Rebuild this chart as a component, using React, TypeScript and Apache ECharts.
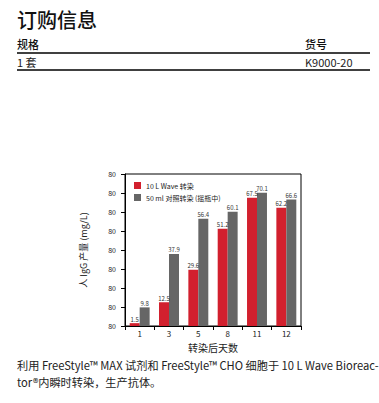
import React, { useEffect, useRef } from "react";
import * as echarts from "echarts";

const categories = ["1", "3", "5", "8", "11", "12"];
const waveValues = [1.5, 12.5, 29.6, 51.2, 67.5, 62.2];
const flaskValues = [9.8, 37.9, 56.4, 60.1, 70.1, 66.6];
const seriesNames = ["10 L Wave 转染", "50 ml 对照转染 (摇瓶中)"];
const yTickLabel = "80";

const FONT = "'Noto Sans CJK SC', 'Noto Sans', sans-serif";

export default function App() {
  const ref = useRef<HTMLDivElement>(null);
  useEffect(() => {
    if (!ref.current) return;
    const chart = echarts.init(ref.current, null, { renderer: "svg" });
    chart.setOption({
      animation: false,
      textStyle: { fontFamily: FONT },
      grid: {
        left: 125,
        right: 78,
        top: 174,
        bottom: 77,
        show: true,
        borderColor: "#000",
        borderWidth: 1,
        containLabel: false,
      },
      legend: {
        orient: "vertical",
        left: 129,
        top: 177,
        itemWidth: 7,
        itemHeight: 7,
        itemGap: 5,
        icon: "rect",
        textStyle: { fontSize: 7, color: "#222", fontFamily: FONT },
        data: seriesNames,
      },
      xAxis: {
        type: "category",
        data: categories,
        name: "转染后天数",
        nameLocation: "middle",
        nameGap: 16,
        nameTextStyle: { fontSize: 10, color: "#222", fontFamily: FONT },
        axisLine: { lineStyle: { color: "#000", width: 1 } },
        axisTick: { show: true, alignWithLabel: false, length: 4, lineStyle: { color: "#000" } },
        axisLabel: { fontSize: 8, color: "#222", margin: 3 },
      },
      yAxis: {
        type: "value",
        min: 0,
        max: 80,
        interval: 10,
        name: "人 IgG 产量 (mg/L)",
        nameLocation: "middle",
        nameGap: 37,
        nameTextStyle: { fontSize: 9, color: "#222", fontFamily: FONT },
        axisLine: { show: true, lineStyle: { color: "#000", width: 1 } },
        axisTick: { show: true, length: 4, lineStyle: { color: "#000" } },
        axisLabel: { fontSize: 7, color: "#222", margin: 9, formatter: () => yTickLabel },
        splitLine: { show: false },
      },
      series: [
        {
          name: seriesNames[0],
          type: "bar",
          data: waveValues,
          barGap: "0%",
          barCategoryGap: "32%",
          itemStyle: { color: "#d2202e" },
          label: { show: true, position: "top", fontSize: 6, color: "#333", distance: 1 },
        },
        {
          name: seriesNames[1],
          type: "bar",
          data: flaskValues,
          barGap: "0%",
          barCategoryGap: "32%",
          itemStyle: { color: "#666666" },
          label: { show: true, position: "top", fontSize: 6, color: "#333", distance: 1 },
        },
      ],
      graphic: [
        { type: "text", left: 17, top: 9, style: { text: "订购信息", fontSize: 20, fontWeight: 500, fill: "#111", fontFamily: FONT } },
        { type: "text", left: 17, top: 38, style: { text: "规格", fontSize: 11, fontWeight: 500, fill: "#111", fontFamily: FONT } },
        { type: "text", left: 305, top: 38, style: { text: "货号", fontSize: 11, fontWeight: 500, fill: "#111", fontFamily: FONT } },
        { type: "line", shape: { x1: 17, y1: 53, x2: 370, y2: 53 }, style: { stroke: "#000", lineWidth: 1.5 } },
        { type: "text", left: 17, top: 56, style: { text: "1 套", fontSize: 11, fill: "#222", fontFamily: FONT } },
        { type: "text", left: 305, top: 56, style: { text: "K9000-20", fontSize: 11, fill: "#222", fontFamily: FONT } },
        { type: "line", shape: { x1: 17, y1: 70, x2: 370, y2: 70 }, style: { stroke: "#000", lineWidth: 1.5 } },
        {
          type: "text",
          left: 17,
          top: 359,
          style: {
            text: "利用 FreeStyle™ MAX 试剂和 FreeStyle™ CHO 细胞于 10 L Wave Bioreac-",
            fontSize: 11.2,
            fill: "#222",
            fontFamily: FONT,
          },
        },
        {
          type: "text",
          left: 17,
          top: 376,
          style: { text: "tor®内瞬时转染，生产抗体。", fontSize: 11.2, fill: "#222", fontFamily: FONT },
        },
      ],
    });
    return () => chart.dispose();
  }, []);
  return (
    <div
      ref={ref}
      style={{ position: "absolute", left: 0, top: 0, width: 379, height: 403, background: "#fff" }}
    />
  );
}
